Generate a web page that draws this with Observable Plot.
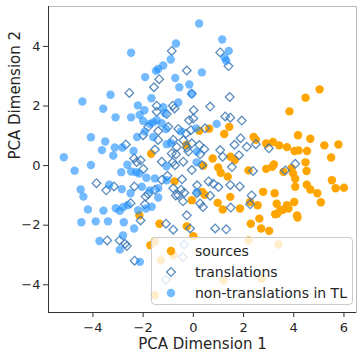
<!DOCTYPE html>
<html>
<head>
<meta charset="utf-8">
<script src="https://cdn.jsdelivr.net/npm/d3@7"></script>
<script src="https://cdn.jsdelivr.net/npm/@observablehq/plot@0.6"></script>
<style>
  body { margin: 0; background: white; }
  #wrap { position: relative; width: 360px; height: 355px; font-family: "DejaVu Sans", sans-serif; }
  #legend { position: absolute; left: 151px; top: 237px; width: 202px; height: 68px;
    background: rgba(255,255,255,0.8); border: 1px solid #cccccc; border-radius: 4px;
    box-sizing: border-box; padding-top: 2px; color: #262626; font-size: 14px; }
  .row { display: flex; align-items: center; height: 21.3px; white-space: nowrap; }
  .row svg { margin-left: 11px; margin-right: 16px; flex: none; }
</style>
</head>
<body>
<div id="wrap"><div id="legend"></div></div>
<script>
const xTicks = [-4, -2, 0, 2, 4, 6];
const yTicks = [-4, -2, 0, 2, 4];
const xDomain = [-5.77, 6.5];
const yDomain = [-4.93, 5.34];
const xLabel = "PCA Dimension 1";
const yLabel = "PCA Dimension 2";
const seriesNames = ["sources", "translations", "non-translations in TL"];

const sourcesX = [5.03,4.47,3.83,4.17,4.66,5.22,5.78,5.49,2.40,2.49,2.90,3.17,3.42,3.73,4.03,4.19,4.53,4.47,4.51,3.21,3.14,2.90,3.91,3.97,4.06,4.06,4.52,4.66,4.94,5.52,5.67,6.00,5.08,2.78,3.24,2.56,3.32,3.57,3.73,3.79,4.02,3.35,3.26,3.46,4.13,4.15,2.26,2.29,2.63,2.70,3.02,1.86,1.17,0.97,1.47,0.00,0.35,0.45,1.43,0.63,0.24,1.23,-0.28,-1.68,0.77,1.48,1.65,0.40,0.99,1.09,1.37,2.20,3.59,-0.75,-0.06,-2.15,-1.35,-0.26,-1.71,-1.53,-1.29,-0.80,-1.53,2.20,3.39,1.20,2.72];
const sourcesY = [2.56,2.28,1.82,1.02,0.90,0.68,0.71,0.27,0.96,0.87,0.74,0.79,0.68,0.62,0.49,0.51,0.49,0.11,-0.18,0.04,-0.04,-0.11,-0.09,-0.26,-0.44,-0.71,-0.64,-0.80,-0.93,-0.49,-0.76,-0.74,-1.23,-0.88,-0.93,-1.33,-1.28,-1.48,-1.33,-1.44,-1.22,-1.61,-1.63,-1.50,-1.67,-1.74,-1.22,-1.95,-1.78,-2.11,-2.19,-1.44,-1.47,-1.25,-1.05,-2.37,-0.88,-0.98,1.30,1.24,1.17,1.06,0.69,0.40,0.24,0.30,0.19,0.00,-0.06,-0.24,-0.37,-0.16,-0.21,-0.53,-1.16,-1.67,-1.95,-2.04,-2.67,-2.54,-3.18,-3.01,-4.35,-2.51,-2.65,-3.85,-3.79];

const translationsX = [-0.86,1.07,1.40,-0.26,-1.36,-1.57,-2.55,-0.06,1.45,-1.46,-0.82,-0.75,0.01,0.67,1.27,1.47,1.93,-1.06,-1.46,-1.80,-1.40,-1.00,-0.60,-0.29,-0.10,-0.17,0.00,0.47,-2.00,-2.69,-0.80,-0.66,-0.40,-0.26,-1.40,-0.06,0.24,1.64,1.88,2.13,2.49,3.01,1.07,0.44,-0.86,-0.20,0.27,1.17,1.82,-1.53,-2.36,-2.10,-0.69,-1.26,-0.82,-0.40,-0.73,0.34,-1.99,-2.26,1.54,3.66,4.06,2.38,-0.06,-1.26,-1.03,-0.45,0.61,0.80,0.15,1.00,1.85,1.47,-0.80,-0.49,-0.60,-0.36,-0.70,0.14,0.67,2.32,-0.41,0.27,0.38,2.26,1.49,-3.86,-3.16,-3.47,-2.35,-1.90,-1.80,-1.53,-2.50,-1.93,-2.10,-1.09,-0.80,-0.26,-0.13,0.87,1.31,-3.43,-2.94,-2.72,-2.65,-2.34,-0.37,-0.42,-1.09];
const translationsY = [3.85,3.80,3.34,3.19,2.90,2.63,2.44,2.41,2.30,2.01,2.01,1.92,1.86,1.98,1.65,1.61,1.51,1.73,1.81,1.30,1.16,1.30,1.23,1.08,1.19,1.52,1.58,1.25,1.02,0.71,0.87,0.62,0.85,0.60,0.86,0.75,0.69,0.70,0.92,0.63,0.72,0.58,0.52,0.55,0.41,0.47,0.38,0.30,0.35,0.54,0.24,0.18,0.38,0.13,0.11,0.13,0.01,0.02,-0.11,0.12,-0.05,-0.16,0.06,-0.18,-0.15,-0.48,-0.34,-0.46,-0.53,-0.61,-0.66,-0.72,-0.70,-0.65,-0.76,-0.81,-0.99,-0.91,-1.00,-0.93,-1.01,-1.00,-1.20,-1.27,-1.39,-1.30,-1.41,-0.59,-0.70,-0.83,-0.70,-1.04,-0.95,-0.81,-1.26,-1.30,-1.84,-1.95,-2.15,-1.67,-2.11,-2.11,-2.14,-2.51,-2.51,-2.62,-2.70,-3.19,-2.65,-3.07,-3.83];

const nonTransX = [0.23,-0.69,-2.48,1.15,1.41,1.31,1.25,-0.90,-1.20,-1.40,-1.49,-1.92,-0.72,0.34,-0.16,-0.56,-0.07,-3.30,-4.42,-1.67,-3.59,-2.21,-1.95,-0.60,-1.20,-3.10,-2.48,-2.14,-1.46,-2.00,-1.60,-1.26,-1.74,-1.09,-0.49,-1.13,-1.94,-2.24,-1.60,-4.08,-3.51,-3.13,-2.83,-3.64,-3.19,-2.38,-0.89,-1.06,0.11,0.93,0.14,0.13,-1.07,-1.53,-1.40,-1.66,-5.16,-4.73,-4.08,-2.87,-2.63,-2.48,-2.28,-2.16,-1.87,-1.06,-3.35,-2.85,-2.05,-1.73,-1.40,-4.49,-4.38,-2.50,-2.61,-2.79,-1.89,-2.20,-3.09,-2.93,-4.20,-3.58,0.14,-4.46,-3.89,-3.40,-2.77,-2.36,-2.80,-3.74,-2.93,-2.13];
const nonTransY = [4.77,4.10,3.79,4.23,3.85,3.52,3.62,3.56,3.36,3.24,3.18,2.97,2.94,3.13,2.72,2.63,2.41,2.38,2.15,2.26,1.91,2.02,1.86,2.12,1.96,1.62,1.62,1.70,1.52,1.50,1.45,1.42,1.40,1.23,1.15,1.76,1.14,0.96,0.96,0.95,0.81,0.61,0.61,0.52,0.34,0.49,0.76,0.72,1.25,1.40,0.47,0.11,-0.02,-0.43,-0.76,-1.38,0.28,-0.17,0.02,-0.22,0.03,-0.20,-0.22,-0.27,-0.41,-0.49,-0.64,-0.79,-0.71,-0.83,-1.07,-0.80,-1.04,-0.93,-1.32,-1.39,-1.44,-1.50,-1.43,-1.52,-1.47,-1.51,-0.89,-1.90,-1.87,-1.87,-1.90,-2.11,-2.34,-2.53,-2.82,-3.23];

const colors = ["#FFA500", "#3d78b3", "#1E90FF"];

const toRows = (xs, ys) => xs.map((x, i) => ({x, y: ys[i]}));
const sources = toRows(sourcesX, sourcesY);
const translations = toRows(translationsX, translationsY);
const nonTrans = toRows(nonTransX, nonTransY);
const fmt = d => (d < 0 ? "\u2212" : "") + Math.abs(d);

const chart = Plot.plot({
  width: 360,
  height: 355,
  marginLeft: 48,
  marginRight: 4,
  marginTop: 6,
  marginBottom: 43,
  style: {fontFamily: "DejaVu Sans, sans-serif", fontSize: "13px", color: "#262626", background: "white", overflow: "visible"},
  x: {domain: xDomain, ticks: xTicks, tickFormat: fmt},
  y: {domain: yDomain, ticks: yTicks, tickFormat: fmt},
  marks: [
    Plot.dot(sources, {x: "x", y: "y", r: 4.2, fill: colors[0], stroke: "none"}),
    Plot.dot(translations, {x: "x", y: "y", r: 3.9, symbol: "diamond2", fill: "none", stroke: colors[1], strokeWidth: 1.3, strokeOpacity: 0.85}),
    Plot.dot(nonTrans, {x: "x", y: "y", r: 4.2, fill: colors[2], fillOpacity: 0.62, stroke: "none"}),
    Plot.frame({stroke: "#bbbbbb"}),
    Plot.ruleX([xDomain[0]], {stroke: "#333"}),
    Plot.ruleY([yDomain[0]], {stroke: "#333"}),
    Plot.axisX({ticks: xTicks, tickFormat: fmt, tickSize: 5, tickPadding: 5, label: null, stroke: "#333"}),
    Plot.axisY({ticks: yTicks, tickFormat: fmt, tickSize: 5, tickPadding: 3, label: null, stroke: "#333"}),
    Plot.text([xLabel], {frameAnchor: "bottom", dy: 36, fontSize: 15, fill: "#262626"}),
    Plot.text([yLabel], {frameAnchor: "left", dx: -33, rotate: -90, fontSize: 15, fill: "#262626"})
  ]
});
document.getElementById("wrap").prepend(chart);

// legend (HTML overlay with semi-transparent white box, like matplotlib)
const legend = d3.select("#legend");
seriesNames.forEach((name, i) => {
  const row = legend.append("div").attr("class", "row");
  const svg = row.append("svg").attr("width", 16).attr("height", 16).attr("viewBox", "-8 -8 16 16");
  if (i === 1) {
    svg.append("path").attr("d", "M0,-4.4L4.4,0L0,4.4L-4.4,0Z").attr("fill", "none")
      .attr("stroke", colors[1]).attr("stroke-width", 1.3).attr("stroke-opacity", 0.85);
  } else {
    svg.append("circle").attr("r", 4.2).attr("fill", colors[i]).attr("fill-opacity", i === 2 ? 0.62 : 1);
  }
  row.append("span").text(name);
});
</script>
</body>
</html>
